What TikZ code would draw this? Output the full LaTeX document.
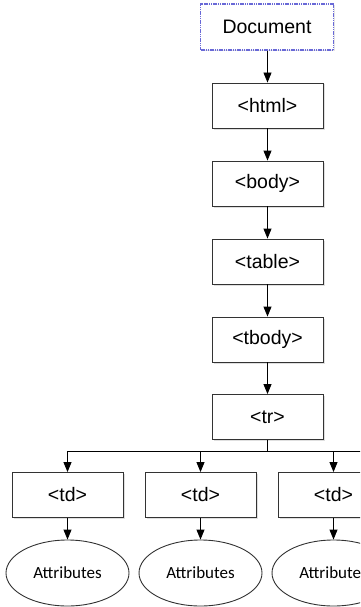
\documentclass[tikz,border=0pt]{standalone}
\usepackage{fontspec}
\setmainfont{Liberation Sans}
\newfontfamily\attrfont{Carlito}
\usetikzlibrary{arrows.meta,shadows,shapes.geometric}
\begin{document}
\begin{tikzpicture}[x=1pt,y=-1pt,
  box/.style={draw=black!80,line width=0.9pt,fill=white,minimum width=111pt,minimum height=45pt,inner sep=0pt,
    font=\fontsize{19.5}{21}\selectfont,
    drop shadow={opacity=0.25,shadow xshift=1.5pt,shadow yshift=-1.5pt}},
  docbox/.style={draw={rgb,255:red,105;green,105;blue,215},line width=1.3pt,dash pattern=on 1.2pt off 0.6pt,fill=white,
    minimum width=133pt,minimum height=46pt,inner sep=0pt,font=\fontsize{19.5}{21}\selectfont,
    drop shadow={opacity=0.2,shadow xshift=1.5pt,shadow yshift=-1.5pt}},
  attr/.style={draw=black!80,line width=0.9pt,ellipse,fill=white,minimum width=123pt,minimum height=66pt,inner sep=0pt,
    font=\attrfont\fontsize{17}{19}\selectfont},
  arr/.style={draw=black,line width=0.9pt,-{Triangle[length=10pt,width=8pt]}},
  ln/.style={draw=black,line width=0.9pt}]
\useasboundingbox (0,0) rectangle (360,607);
\clip (0,0) rectangle (360,607);
\fill[white] (0,0) rectangle (360,607);
\node[docbox] (doc) at (267,27) {Document};
\node[box] (html) at (267.5,105.5) {<html>};
\node[box] (body) at (267.5,183.5) {<body>};
\node[box] (table) at (267.5,261.5) {<table>};
\node[box] (tbody) at (267.5,339.5) {<tbody>};
\node[box] (tr) at (267.5,417) {<tr>};
\node[box] (td1) at (67.5,495) {<td>};
\node[box] (td2) at (200.5,495) {<td>};
\node[box] (td3) at (333.5,495) {<td>};
\node[attr] (a1) at (67.5,573) {Attributes};
\node[attr] (a2) at (200.5,573) {Attributes};
\node[attr] (a3) at (333.5,573) {Attributes};
\draw[arr] (doc.south -| html) -- (html);
\draw[arr] (html) -- (body);
\draw[arr] (body) -- (table);
\draw[arr] (table) -- (tbody);
\draw[arr] (tbody) -- (tr);
\coordinate (bar) at (267.5,451);
\coordinate (barL) at (67.5,451);
\coordinate (barR) at (370,451);
\draw[ln] (tr.south) -- (bar);
\draw[ln] (barL) -- (barR);
\draw[arr] (barL) -- (td1);
\draw[arr] (td2.north |- bar) -- (td2);
\draw[arr] (td3.north |- bar) -- (td3);
\draw[arr] (td1) -- (a1);
\draw[arr] (td2) -- (a2);
\draw[arr] (td3) -- (a3);
\end{tikzpicture}
\end{document}
